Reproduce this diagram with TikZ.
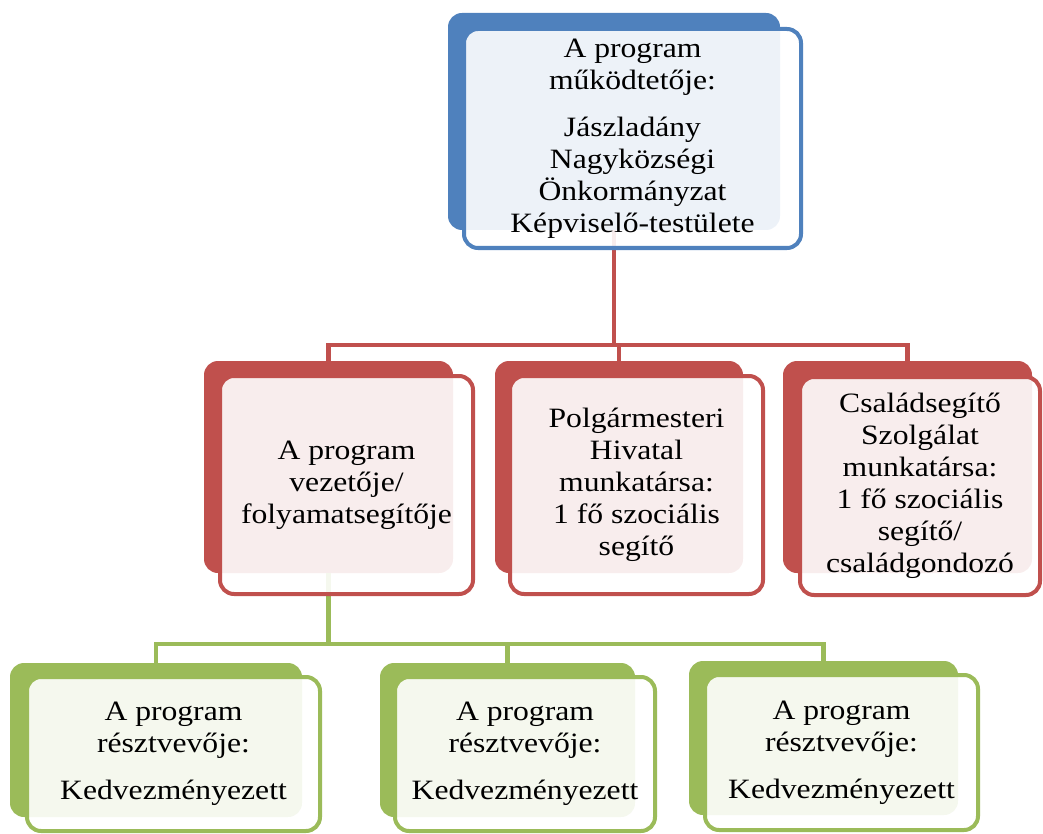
\documentclass[tikz,border=0pt]{standalone}
\usepackage{fontspec}
\setmainfont{Liberation Serif}[FakeStretch=1.13]
\usepackage{tikz}
\usetikzlibrary{positioning}

\definecolor{accblue}{HTML}{4F81BD}
\definecolor{accred}{HTML}{C0504D}
\definecolor{accgreen}{HTML}{9BBB59}

\tikzset{
  backbox/.style={fill=#1, rounded corners=14pt, inner sep=0pt},
  frontbox/.style={draw=#1, line width=4pt, fill=white, fill opacity=0.9,
    text opacity=1, rounded corners=14pt, inner sep=0pt, align=center,
    font=\fontsize{28}{32}\selectfont},
  orglink/.style={draw=#1, line width=4.5pt}
}

\begin{document}
\begin{tikzpicture}[x=1pt,y=-1pt]

\useasboundingbox (0,0) rectangle (1043,834);

% back boxes
\node[backbox=accblue, minimum width=332pt, minimum height=217pt] (top) at (614,121.5) {};

\node[backbox=accred, minimum width=249pt, minimum height=212pt] (ml) at (328.5,467) {};
\node[backbox=accred, minimum width=248pt, minimum height=212pt] (mm) at (619,467) {};
\node[backbox=accred, minimum width=249pt, minimum height=212pt] (mr) at (907.5,467) {};

\node[backbox=accgreen, minimum width=292pt, minimum height=154pt] (bl) at (156,740) {};
\node[backbox=accgreen, minimum width=255pt, minimum height=154pt] (bm) at (507.5,740) {};
\node[backbox=accgreen, minimum width=269pt, minimum height=154pt] (br) at (823.5,738) {};

% connectors
\coordinate (rbar) at (614,345);
\draw[orglink=accred] (top.south) -- (rbar);
\draw[orglink=accred] (rbar) -| (ml.north);
\draw[orglink=accred] (rbar) -| (mm.north);
\draw[orglink=accred] (rbar) -| (mr.north);

\coordinate (gbar) at (328.5,644);
\draw[orglink=accgreen] (ml.south) -- (gbar);
\draw[orglink=accgreen] (gbar) -| (bl.north);
\draw[orglink=accgreen] (gbar) -| (bm.north);
\draw[orglink=accgreen] (gbar) -| (br.north);

% front boxes
\node[frontbox=accblue, minimum width=337pt, minimum height=219pt] (topf) at (632.5,138.5)
  {A program\\ működtetője:\\[15pt] Jászladány\\ Nagyközségi\\ Önkormányzat\\ Képviselő-testülete};

\node[frontbox=accred, minimum width=253pt, minimum height=218pt] (mlf) at (346.5,485)
  {A program\\ vezetője/\\ folyamatsegítője};
\node[frontbox=accred, minimum width=253pt, minimum height=218pt] (mmf) at (636.5,485)
  {Polgármesteri\\ Hivatal\\ munkatársa:\\ 1 fő szociális\\ segítő};
\node[frontbox=accred, minimum width=240pt, minimum height=218pt] (mrf) at (920,486)
  {Családsegítő\\ Szolgálat\\ munkatársa:\\ 1 fő szociális\\ segítő/\\ családgondozó};

\node[frontbox=accgreen, minimum width=293pt, minimum height=154pt] (blf) at (173.5,754)
  {A program\\ résztvevője:\\[15pt] Kedvezményezett};
\node[frontbox=accgreen, minimum width=260pt, minimum height=154pt] (bmf) at (525,754)
  {A program\\ résztvevője:\\[15pt] Kedvezményezett};
\node[frontbox=accgreen, minimum width=273pt, minimum height=155pt] (brf) at (841.5,752.5)
  {A program\\ résztvevője:\\[15pt] Kedvezményezett};

\end{tikzpicture}
\end{document}
